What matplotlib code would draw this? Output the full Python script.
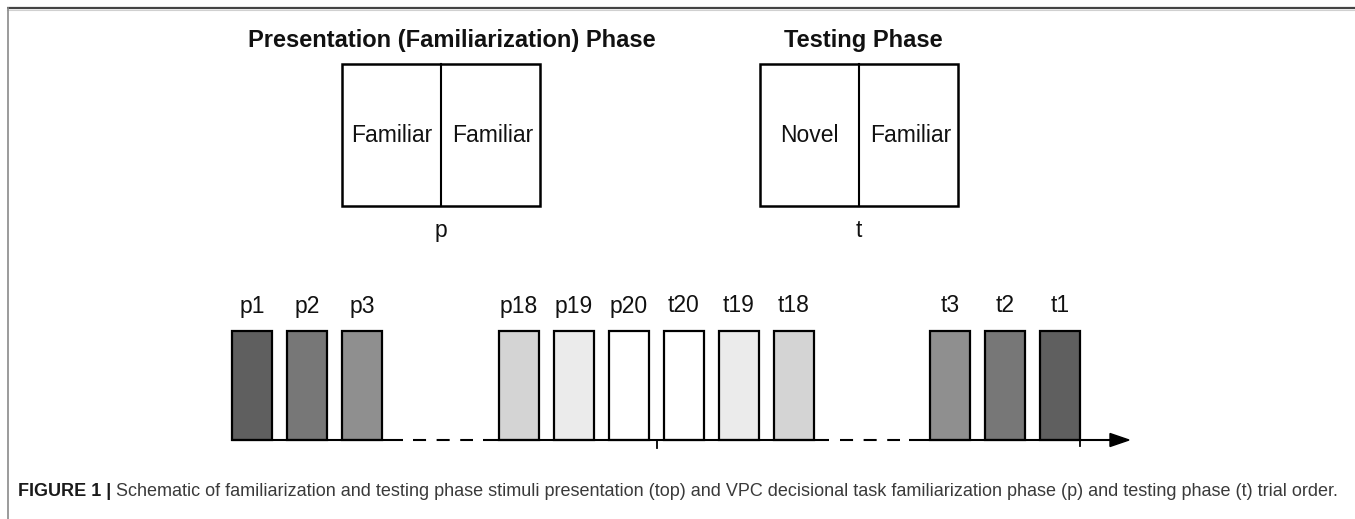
import matplotlib
matplotlib.use("Agg")
import matplotlib.pyplot as plt
from matplotlib.patches import Rectangle, Polygon

plt.rcParams["font.family"] = ["Liberation Sans", "DejaVu Sans"]
plt.rcParams["lines.scale_dashes"] = False

# Trials shown on the timeline, in three visible groups
group_early = ["p1", "p2", "p3"]
group_middle = ["p18", "p19", "p20", "t20", "t19", "t18"]
group_late = ["t3", "t2", "t1"]

# grey level of each trial bar
trial_shade = {
    "p1": "#5f5f5f", "p2": "#777777", "p3": "#8f8f8f",
    "p18": "#d4d4d4", "p19": "#ebebeb", "p20": "#ffffff",
    "t20": "#ffffff", "t19": "#ebebeb", "t18": "#d4d4d4",
    "t3": "#8f8f8f", "t2": "#777777", "t1": "#5f5f5f",
}

# Top panels
phase_titles = ["Presentation (Familiarization) Phase", "Testing Phase"]
phase_sides = [["Familiar", "Familiar"], ["Novel", "Familiar"]]
phase_keys = ["p", "t"]

caption_bold = "FIGURE 1 | "
caption_text = ("Schematic of familiarization and testing phase stimuli presentation (top) "
                "and VPC decisional task familiarization phase (p) and testing phase (t) trial order.")

W, H = 1355, 519


def py(y):
    # pixel row (from top) -> axes y
    return H - y


fig = plt.figure(figsize=(W / 100, H / 100), dpi=100)
ax = fig.add_axes([0, 0, 1, 1])
ax.set_xlim(0, W)
ax.set_ylim(0, H)
ax.axis("off")

# frame of the figure panel
ax.plot([7, W], [py(8), py(8)], color="#444444", lw=1.6, solid_capstyle="butt")
ax.plot([7, W], [py(9.5), py(9.5)], color="#d0d0d0", lw=0.8)
ax.plot([7.5, 7.5], [py(8), 0], color="#8a8a8a", lw=1.2)

# --- top: the two stimulus screens ---
box_left = [342, 760]
title_shift = [11, 4]  # titles sit a little right of the box centre
box_w, box_top, box_bot = 198, 64, 206
for i in range(2):
    x0 = box_left[i]
    ax.add_patch(Rectangle((x0, py(box_bot)), box_w, box_bot - box_top,
                           fill=False, edgecolor="black", lw=1.8))
    mid = x0 + box_w / 2
    ax.plot([mid, mid], [py(box_top), py(box_bot)], color="black", lw=1.5)
    ax.text(mid + title_shift[i], py(47.5), phase_titles[i], ha="center", va="baseline",
            fontsize=17, fontweight="bold", color="#111111")
    ax.text(x0 + box_w / 4, py(142.5), phase_sides[i][0], ha="center", va="baseline",
            fontsize=16.5, color="#111111")
    ax.text(x0 + 3 * box_w / 4 + 2, py(142.5), phase_sides[i][1], ha="center", va="baseline",
            fontsize=16.5, color="#111111")
    ax.text(mid, py(237), phase_keys[i], ha="center", va="baseline",
            fontsize=16.5, color="#111111")

# --- bottom: trial order timeline ---
base = py(440)
bar_h = 109
pitch, bar_w = 55, 40
group_start = [232, 499, 930]
for trials, start in zip([group_early, group_middle, group_late], group_start):
    xs = [start + bar_w / 2 + pitch * k for k in range(len(trials))]
    ax.bar(xs, bar_h, width=bar_w, bottom=base,
           color=[trial_shade[t] for t in trials], edgecolor="black", lw=1.6)
    for x, t in zip(xs, trials):
        ax.text(x, py(312.5), t, ha="center", va="baseline", fontsize=16.5, color="#111111")

# axis line: solid pieces, dashed gaps, arrow at the end
ax.plot([232, 403], [base, base], color="black", lw=1.5, solid_capstyle="butt")
ax.plot([483, 829], [base, base], color="black", lw=1.5, solid_capstyle="butt")
ax.plot([909, 1112], [base, base], color="black", lw=1.5, solid_capstyle="butt")
for a, b in [(413, 473), (840, 900)]:
    ax.plot([a, b], [base, base], color="black", lw=1.5,
            linestyle=(0, (9.4, 7.6)), dash_capstyle="butt")
ax.add_patch(Polygon([(1110, base + 6.5), (1129, base), (1110, base - 6.5)],
                     closed=True, color="black"))
ax.plot([657, 657], [base, base - 8], color="black", lw=1.3)
ax.plot([1080, 1080], [base, base - 6], color="black", lw=1.3)

# caption
cap_y = py(496)
tb = ax.text(18, cap_y, caption_bold, ha="left", va="baseline", fontsize=12.95,
             fontweight="bold", color="#1a1a1a")
fig.canvas.draw()
bb = tb.get_window_extent(renderer=fig.canvas.get_renderer())
ax.text(bb.x1, cap_y, caption_text, ha="left", va="baseline", fontsize=12.95,
        color="#3a3a3a")

fig.savefig("out.png", dpi=100)
